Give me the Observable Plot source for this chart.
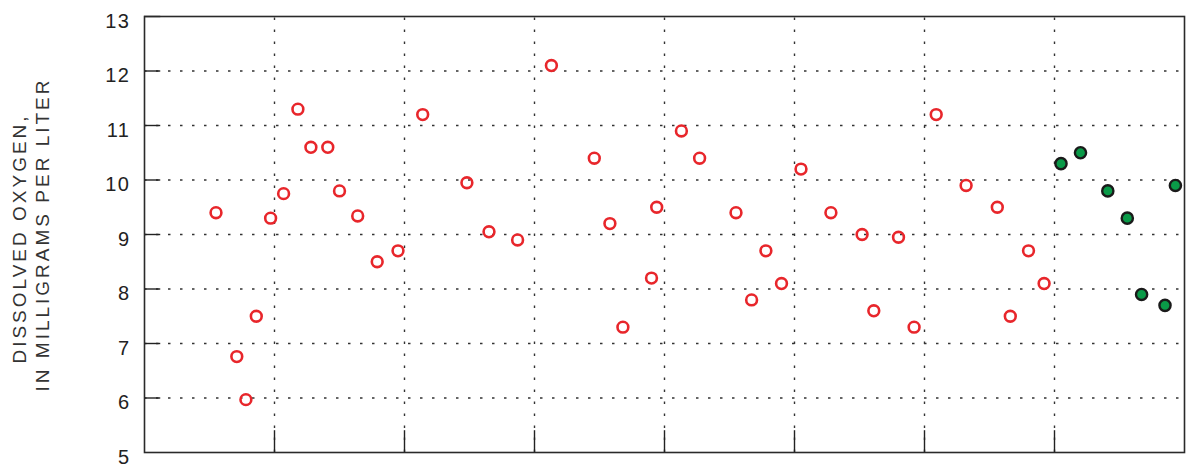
<!DOCTYPE html>
<html><head><meta charset="utf-8">
<script src="https://cdn.jsdelivr.net/npm/d3@7"></script>
<script src="https://cdn.jsdelivr.net/npm/@observablehq/plot@0.6"></script>
<style>body{margin:0;background:#fff;} svg{display:block;}</style>
</head><body><div id="chart"></div>
<script>
// Open red circles (x position in interval units, dissolved oxygen mg/L)
const redX = [0.55,0.71,0.78,0.86,0.97,1.07,1.18,1.28,1.41,1.50,1.64,1.79,1.95,2.14,2.48,2.65,2.87,3.13,3.46,3.58,3.68,3.90,3.94,4.13,4.27,4.55,4.67,4.78,4.90,5.05,5.28,5.52,5.61,5.80,5.92,6.09,6.32,6.56,6.66,6.80,6.92];
const redY = [9.4,6.76,5.97,7.5,9.3,9.75,11.3,10.6,10.6,9.8,9.34,8.5,8.7,11.2,9.95,9.05,8.9,12.1,10.4,9.2,7.3,8.2,9.5,10.9,10.4,9.4,7.8,8.7,8.1,10.2,9.4,9.0,7.6,8.95,7.3,11.2,9.9,9.5,7.5,8.7,8.1];
// Filled green circles
const greenX = [7.05,7.20,7.41,7.56,7.67,7.85,7.93];
const greenY = [10.3,10.5,9.8,9.3,7.9,7.7,9.9];
const yTicks = [5,6,7,8,9,10,11,12,13];
const xTicks = [0,1,2,3,4,5,6,7,8];
const titleLines = ["DISSOLVED OXYGEN,", "IN MILLIGRAMS PER LITER"];

const red = redX.map((x,i)=>({x, y:redY[i]}));
const green = greenX.map((x,i)=>({x, y:greenY[i]}));
const inner = (a)=>a.slice(1,-1);

const chart = Plot.plot({
  width: 1188, height: 476,
  marginLeft: 144, marginRight: 4, marginTop: 16, marginBottom: 24,
  style: {fontFamily: "'Liberation Sans', Arial, sans-serif", background: "#fff"},
  x: {domain: [0, 8], axis: null},
  y: {domain: [5, 13]},
  marks: [
    Plot.ruleX(inner(xTicks), {y1: 5, y2: 13, stroke: "#333", strokeWidth: 1.4, strokeDasharray: "2.5,9.5"}),
    Plot.ruleY(inner(yTicks), {x1: 0, x2: 8, stroke: "#333", strokeWidth: 1.4, strokeDasharray: "2.5,9.5"}),
    Plot.ruleX(inner(xTicks), {y1: 5, y2: 5.4, stroke: "#222", strokeWidth: 1.4}),
    Plot.ruleY(inner(yTicks).concat([13]), {x1: 0, x2: 0.125, stroke: "#222", strokeWidth: 1.4}),
    Plot.frame({stroke: "#2a2a2a", strokeWidth: 1.6}),
    Plot.axisY(yTicks, {tickSize: 0, tickPadding: 14, fontSize: 20, color: "#222", dy: 5, label: null, tickFormat: d3.format("d")}),
    Plot.text([titleLines[0]], {frameAnchor: "left", text: d => d, rotate: -90, textAnchor: "middle", dx: -125, dy: 4, fontSize: 19, fill: "#333"}),
    Plot.text([titleLines[1]], {frameAnchor: "left", text: d => d, rotate: -90, textAnchor: "middle", dx: -102, dy: 0, fontSize: 19, fill: "#333"}),
    Plot.dot(red, {x: "x", y: "y", r: 5.4, stroke: "#e8262b", strokeWidth: 2.6, fill: "none"}),
    Plot.dot(green, {x: "x", y: "y", r: 5.6, stroke: "#1a1a1a", strokeWidth: 2.4, fill: "#0a9a48"})
  ]
});
chart.querySelectorAll('g[aria-label="text"] text').forEach(t => { t.style.letterSpacing = "3px"; });
chart.querySelectorAll('g[aria-label="y-axis tick label"] text').forEach(t => { t.style.letterSpacing = "1.5px"; });
document.getElementById("chart").appendChild(chart);
</script>
</body></html>
